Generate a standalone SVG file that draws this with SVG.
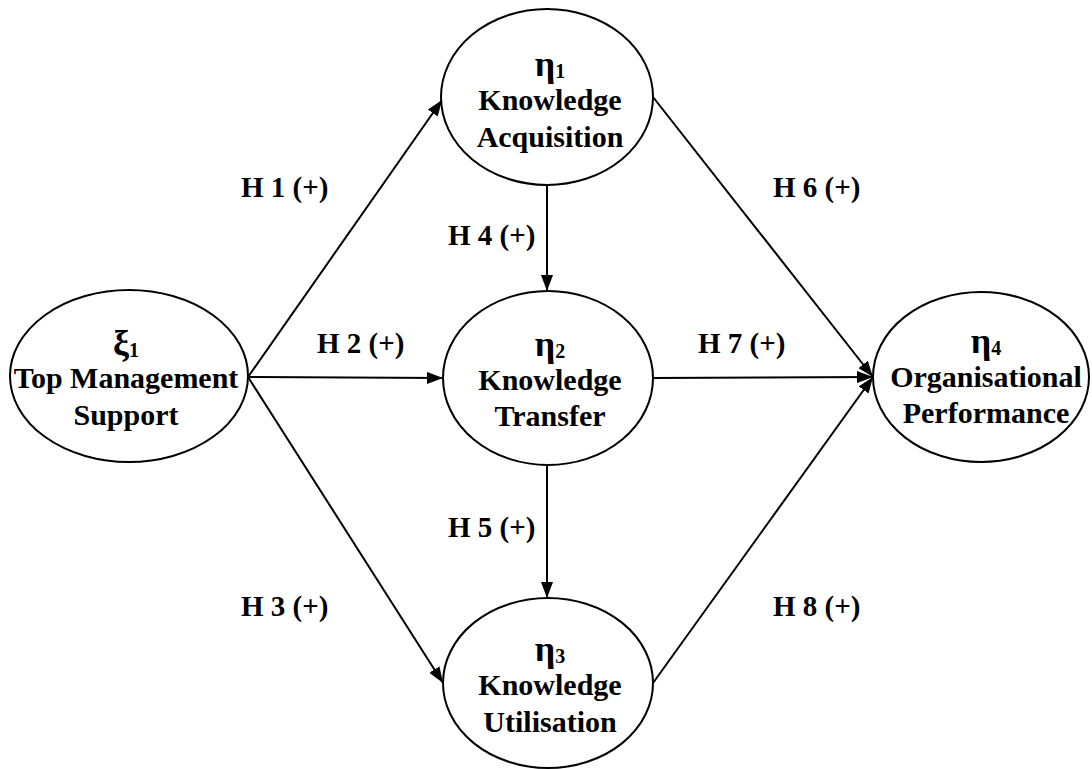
<svg xmlns="http://www.w3.org/2000/svg" width="1092" height="769" viewBox="0 0 1092 769">
<style>
.n{fill:#fff;stroke:#000;stroke-width:2}
.t{font-weight:bold;font-size:30px;fill:#000;text-anchor:middle}
.g{font-size:36px}
.s{font-size:20px}
.l{font-weight:bold;font-size:29px;fill:#000}
.c{stroke:#000;stroke-width:2;fill:none;marker-end:url(#ah)}
</style>
<defs>
<marker id="ah" viewBox="0 0 16 12" refX="16" refY="6" markerWidth="16" markerHeight="12" markerUnits="userSpaceOnUse" orient="auto">
<path d="M0,0 L16,6 L0,12 z" fill="#000"/>
</marker>
</defs>
<rect width="1092" height="769" fill="#fff"/>
<g id="connectors">
<line class="c" x1="248" y1="377" x2="442" y2="100"/>
<line class="c" x1="248" y1="377" x2="443" y2="378"/>
<line class="c" x1="248" y1="377" x2="443" y2="683"/>
<line class="c" x1="547" y1="185" x2="547" y2="291"/>
<line class="c" x1="547" y1="465" x2="547" y2="598"/>
<line class="c" x1="653" y1="97" x2="873" y2="377"/>
<line class="c" x1="653" y1="378" x2="873" y2="377"/>
<line class="c" x1="653" y1="683" x2="873" y2="377"/>
</g>
<g id="labels" font-family="Liberation Serif, Times New Roman, DejaVu Serif, serif">
<text class="l" x="241" y="197">H 1 (+)</text>
<text class="l" x="317" y="353">H 2 (+)</text>
<text class="l" x="241" y="616">H 3 (+)</text>
<text class="l" x="448" y="245">H 4 (+)</text>
<text class="l" x="448" y="537">H 5 (+)</text>
<text class="l" x="773" y="197">H 6 (+)</text>
<text class="l" x="698" y="353">H 7 (+)</text>
<text class="l" x="773" y="616">H 8 (+)</text>
</g>
<g id="xi1" font-family="Liberation Serif, Times New Roman, DejaVu Serif, serif">
<ellipse class="n" cx="129" cy="376" rx="119" ry="86"/>
<text class="t" x="126" y="355"><tspan class="g">ξ</tspan><tspan class="s" dy="2">1</tspan></text>
<text class="t" x="126" y="388">Top Management</text>
<text class="t" x="126" y="425">Support</text>
</g>
<g id="eta1" font-family="Liberation Serif, Times New Roman, DejaVu Serif, serif">
<ellipse class="n" cx="547" cy="97" rx="106" ry="88"/>
<text class="t" x="550" y="76"><tspan class="g">η</tspan><tspan class="s" dy="2">1</tspan></text>
<text class="t" x="550" y="110">Knowledge</text>
<text class="t" x="550" y="147">Acquisition</text>
</g>
<g id="eta2" font-family="Liberation Serif, Times New Roman, DejaVu Serif, serif">
<ellipse class="n" cx="548" cy="378" rx="105" ry="87"/>
<text class="t" x="550" y="356"><tspan class="g">η</tspan><tspan class="s" dy="2">2</tspan></text>
<text class="t" x="550" y="390">Knowledge</text>
<text class="t" x="550" y="426">Transfer</text>
</g>
<g id="eta3" font-family="Liberation Serif, Times New Roman, DejaVu Serif, serif">
<ellipse class="n" cx="548" cy="683" rx="105" ry="85"/>
<text class="t" x="550" y="661"><tspan class="g">η</tspan><tspan class="s" dy="2">3</tspan></text>
<text class="t" x="550" y="695">Knowledge</text>
<text class="t" x="550" y="732">Utilisation</text>
</g>
<g id="eta4" font-family="Liberation Serif, Times New Roman, DejaVu Serif, serif">
<ellipse class="n" cx="981" cy="377" rx="108" ry="85"/>
<text class="t" x="986" y="353"><tspan class="g">η</tspan><tspan class="s" dy="2">4</tspan></text>
<text class="t" x="986" y="387">Organisational</text>
<text class="t" x="986" y="423">Performance</text>
</g>
</svg>
